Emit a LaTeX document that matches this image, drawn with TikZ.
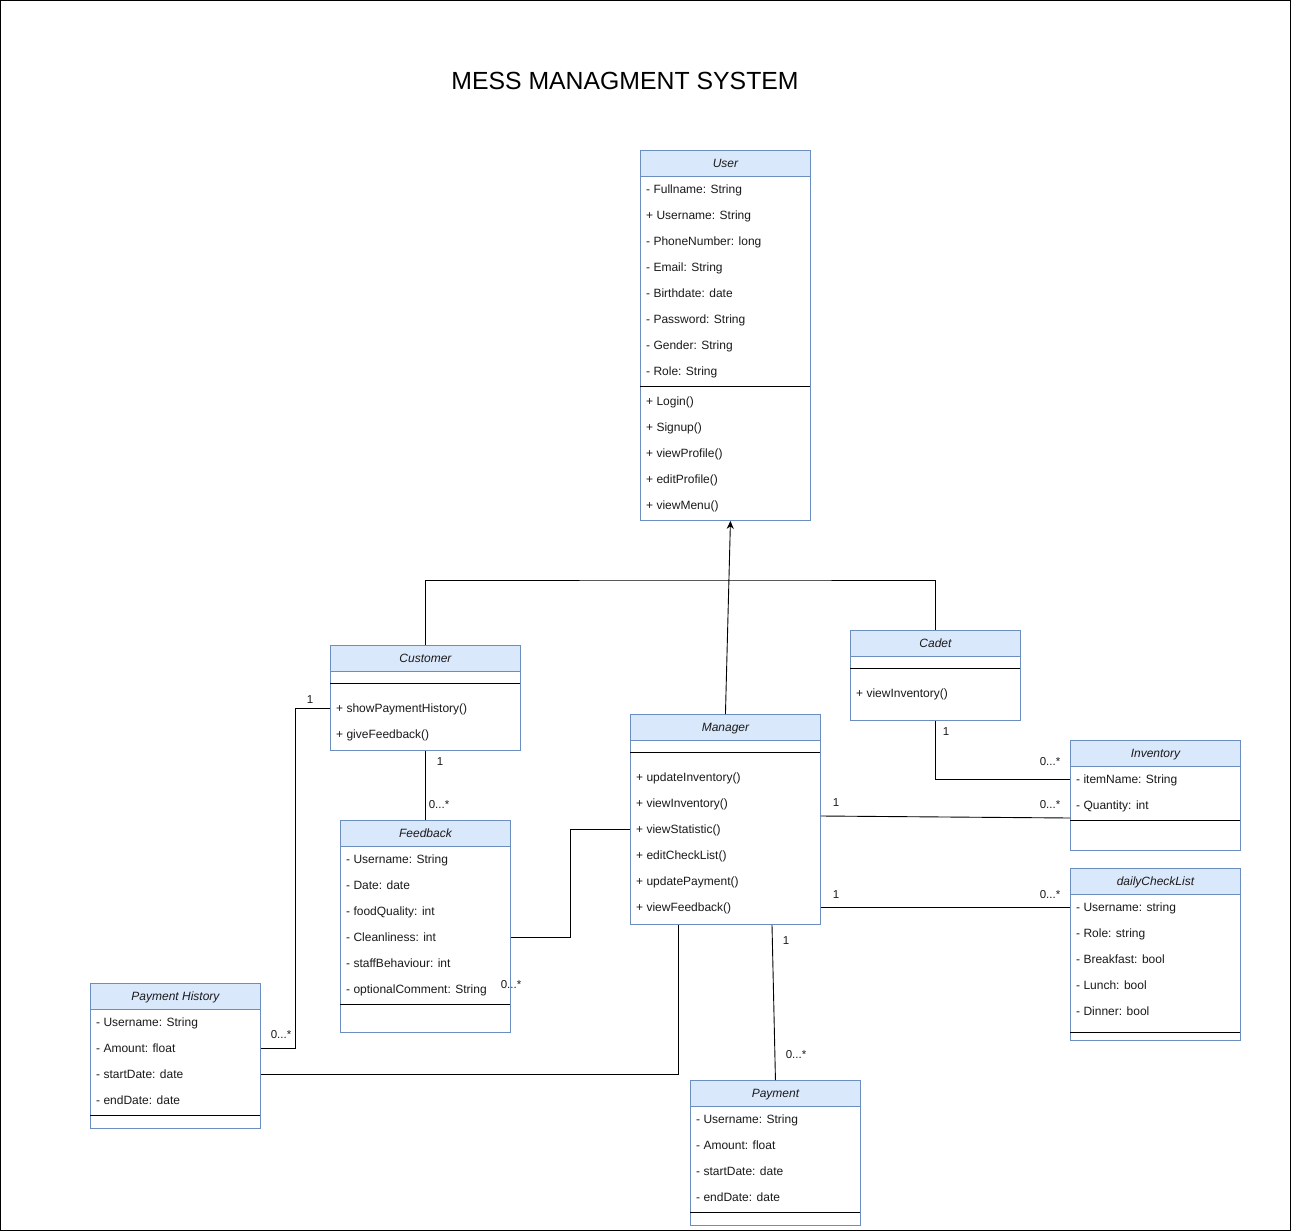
\documentclass[tikz,border=0pt]{standalone}
\usepackage{fontspec}
\setmainfont{Liberation Sans}
\usetikzlibrary{arrows.meta}
\definecolor{hdrblue}{HTML}{DAE8FC}
\definecolor{boxblue}{HTML}{6C8EBF}
\definecolor{txt}{HTML}{1A1A1A}
\tikzset{
  classbox/.style={draw=boxblue, fill=white, line width=0.9pt, rectangle, inner sep=0pt, anchor=north west},
  hdrbox/.style={draw=boxblue, fill=hdrblue, line width=0.9pt, rectangle, inner sep=0pt, anchor=north west,
    minimum height=26pt, text height=8.6pt, text depth=0pt, text=txt, font=\itshape\fontsize{12}{14}\selectfont},
  item/.style={anchor=west, inner sep=0pt, text height=8.6pt, text depth=0pt, text=txt, font=\fontsize{12}{14}\selectfont},
  mult/.style={inner sep=0pt, text height=8.3pt, text depth=0pt, text=txt, font=\fontsize{11.5}{14}\selectfont},
  sepline/.style={black, line width=0.9pt},
  conn/.style={black, line width=0.9pt},
}
\begin{document}
\begin{tikzpicture}[x=1pt, y=-1pt]
\useasboundingbox (0,0) rectangle (1291,1231);
\draw[black, line width=1pt] (0.5,0.5) rectangle (1290.5,1230.5);

\node[font=\fontsize{24.8}{28}\selectfont, text=black, inner sep=0pt, text height=17.8pt, text depth=0pt] (title) at (625,81) {MESS MANAGMENT SYSTEM};

% ---------- User ----------
\node[classbox, minimum width=170pt, minimum height=370pt] (user) at (640,150) {};
\node[hdrbox, minimum width=170pt] (userh) at (640,150) {User};
\foreach \t [count=\i] in {- Fullname: String, + Username: String, - PhoneNumber: long, - Email: String, - Birthdate: date, - Password: String, - Gender: String, - Role: String}
  \node[item] (user-a\i) at (646,163+26*\i) {\t};
\draw[sepline] (640,386) -- (810,386);
\foreach \t [count=\i] in {+ Login(), + Signup(), + viewProfile(), + editProfile(), + viewMenu()}
  \node[item] (user-m\i) at (646,375+26*\i) {\t};

% ---------- Customer ----------
\node[classbox, minimum width=190pt, minimum height=105pt] (customer) at (330,645) {};
\node[hdrbox, minimum width=190pt] (customerh) at (330,645) {Customer};
\draw[sepline] (330,683) -- (520,683);
\foreach \t [count=\i] in {+ showPaymentHistory(), + giveFeedback()}
  \node[item] (customer-\i) at (336,682+26*\i) {\t};

% ---------- Cadet ----------
\node[classbox, minimum width=170pt, minimum height=90pt] (cadet) at (850,630) {};
\node[hdrbox, minimum width=170pt] (cadeth) at (850,630) {Cadet};
\draw[sepline] (850,668) -- (1020,668);
\node[item] (cadet-1) at (856,693) {+ viewInventory()};

% ---------- Manager ----------
\node[classbox, minimum width=190pt, minimum height=210pt] (manager) at (630,714) {};
\node[hdrbox, minimum width=190pt] (managerh) at (630,714) {Manager};
\draw[sepline] (630,752) -- (820,752);
\foreach \t [count=\i] in {+ updateInventory(), + viewInventory(), + viewStatistic(), + editCheckList(), + updatePayment(), + viewFeedback()}
  \node[item] (manager-\i) at (636,751+26*\i) {\t};

% ---------- Inventory ----------
\node[classbox, minimum width=170pt, minimum height=110pt] (inventory) at (1070,740) {};
\node[hdrbox, minimum width=170pt] (inventoryh) at (1070,740) {Inventory};
\foreach \t [count=\i] in {- itemName: String, - Quantity: int}
  \node[item] (inventory-\i) at (1076,753+26*\i) {\t};
\draw[sepline] (1070,820) -- (1240,820);

% ---------- dailyCheckList ----------
\node[classbox, minimum width=170pt, minimum height=172pt] (dcl) at (1070,868) {};
\node[hdrbox, minimum width=170pt] (dclh) at (1070,868) {dailyCheckList};
\foreach \t [count=\i] in {- Username: string, - Role: string, - Breakfast: bool, - Lunch: bool, - Dinner: bool}
  \node[item] (dcl-\i) at (1076,881+26*\i) {\t};
\draw[sepline] (1070,1032) -- (1240,1032);

% ---------- Feedback ----------
\node[classbox, minimum width=170pt, minimum height=212pt] (feedback) at (340,820) {};
\node[hdrbox, minimum width=170pt] (feedbackh) at (340,820) {Feedback};
\foreach \t [count=\i] in {- Username: String, - Date: date, - foodQuality: int, - Cleanliness: int, - staffBehaviour: int, - optionalComment: String}
  \node[item] (feedback-\i) at (346,833+26*\i) {\t};
\draw[sepline] (340,1004) -- (510,1004);

% ---------- Payment History ----------
\node[classbox, minimum width=170pt, minimum height=145pt] (phist) at (90,983) {};
\node[hdrbox, minimum width=170pt] (phisth) at (90,983) {Payment History};
\foreach \t [count=\i] in {- Username: String, - Amount: float, - startDate: date, - endDate: date}
  \node[item] (phist-\i) at (96,996+26*\i) {\t};
\draw[sepline] (90,1115) -- (260,1115);

% ---------- Payment ----------
\node[classbox, minimum width=170pt, minimum height=145pt] (payment) at (690,1080) {};
\node[hdrbox, minimum width=170pt] (paymenth) at (690,1080) {Payment};
\foreach \t [count=\i] in {- Username: String, - Amount: float, - startDate: date, - endDate: date}
  \node[item] (payment-\i) at (696,1093+26*\i) {\t};
\draw[sepline] (690,1212) -- (860,1212);

% ---------- Connectors ----------
\coordinate (bus) at (730,580);
\draw[conn, -{Stealth[length=8pt, width=7pt]}] (manager.north) -- ([xshift=5pt]user.south);
\draw[conn] (customer.north) |- (bus) -| (cadet.north);

\draw[conn] (customer.south) -- (feedback.north);
\node[mult] (l1) at (440,761) {1};
\node[mult] (l2) at (439,804) {0...*};

\draw[conn] (customer.west |- customer-1) -- ++(-35,0) |- (phist.east |- phist-2);
\node[mult] (l3) at (310,699) {1};
\node[mult] (l4) at (281,1034) {0...*};

\draw[conn] (feedback.east |- feedback-4) -- ++(60,0) |- (manager.west |- manager-3);
\node[mult] (l5) at (511,984) {0...*};

\draw[conn] ([xshift=48pt]manager.south west) |- (phist.east |- phist-3);

\draw[conn] ([xshift=142pt]manager.south west) -- (payment.north);
\node[mult] (l6) at (786,940) {1};
\node[mult] (l7) at (796,1054) {0...*};

\draw[conn] ([yshift=-102pt]manager.north east) -- ([yshift=-78pt]inventory.north west);
\node[mult] (l8) at (836,802) {1};
\node[mult] (l9) at (1050,804) {0...*};

\draw[conn] (cadet.south) |- (inventory.west |- inventory-1);
\node[mult] (l10) at (946,731) {1};
\node[mult] (l11) at (1050,761) {0...*};

\draw[conn] (manager.east |- manager-6) -- (dcl.west |- dcl-1);
\node[mult] (l12) at (836,894) {1};
\node[mult] (l13) at (1050,894) {0...*};
\end{tikzpicture}
\end{document}
